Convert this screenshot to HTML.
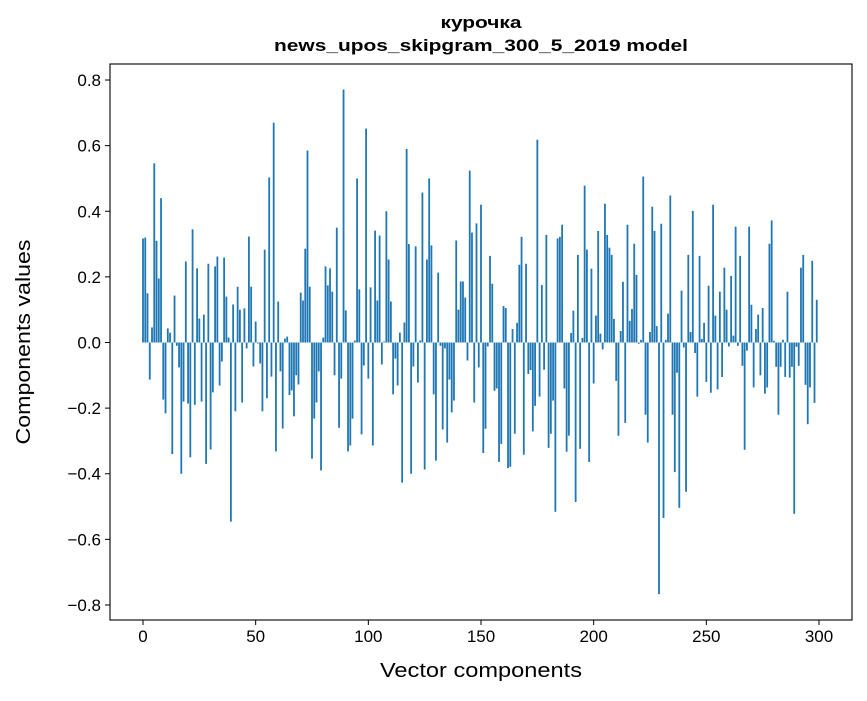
<!DOCTYPE html>
<html><head><meta charset="utf-8"><style>
body{margin:0;background:#fff;}
svg text{font-family:"Liberation Sans","DejaVu Sans",sans-serif;fill:#000;}
</style></head><body>
<svg id="chart" width="867" height="696" xmlns="http://www.w3.org/2000/svg">
<rect width="867" height="696" fill="#fff"/>
<text x="481" y="28" text-anchor="middle" font-size="17" font-weight="bold" textLength="81" lengthAdjust="spacingAndGlyphs">курочка</text>
<text x="481" y="51" text-anchor="middle" font-size="17" font-weight="bold" textLength="414" lengthAdjust="spacingAndGlyphs">news_upos_skipgram_300_5_2019 model</text>
<g id="bars"></g>
<g id="axes"></g>
<text x="481" y="677" text-anchor="middle" font-size="20" textLength="202" lengthAdjust="spacingAndGlyphs">Vector components</text>
<text transform="translate(30,342) rotate(-90)" text-anchor="middle" font-size="20" textLength="205" lengthAdjust="spacingAndGlyphs">Components values</text>
</svg>
<script>
const values = [0.317,0.32,0.15,-0.113,0.046,0.546,0.31,0.195,0.44,-0.174,-0.216,0.043,0.03,-0.34,0.143,-0.01,-0.076,-0.40,-0.18,0.247,-0.186,-0.35,0.345,-0.19,0.226,0.073,-0.18,0.085,-0.37,0.24,-0.326,-0.152,0.232,0.262,-0.131,-0.058,0.259,0.14,0.015,-0.546,0.116,-0.21,0.17,0.10,-0.183,0.104,-0.018,0.323,0.17,-0.073,
0.064,-0.003,-0.064,-0.21,0.283,-0.17,0.503,-0.104,0.67,-0.332,0.125,-0.088,-0.262,0.012,0.018,-0.16,-0.146,-0.225,-0.10,-0.128,0.152,0.128,0.286,0.585,0.17,-0.354,-0.232,-0.183,-0.088,-0.39,0.015,0.232,0.174,0.226,0.155,-0.10,0.35,-0.26,-0.11,0.771,0.098,-0.332,-0.314,-0.232,0.006,0.50,0.162,-0.28,-0.07,0.652,
-0.11,0.168,-0.314,0.341,0.128,0.326,-0.067,0.003,0.40,0.253,0.125,-0.158,-0.049,-0.131,0.03,-0.427,0.061,0.59,0.30,-0.40,-0.073,0.293,-0.122,0.006,0.457,-0.387,0.253,0.50,0.296,-0.158,-0.36,0.213,-0.01,-0.265,-0.018,-0.305,-0.113,-0.213,-0.177,0.311,0.10,0.186,0.186,0.137,-0.055,0.524,0.335,-0.183,0.363,-0.076,
0.42,-0.337,-0.263,-0.012,0.264,0.179,-0.147,-0.14,-0.364,-0.309,0.111,0.105,-0.383,-0.379,0.041,-0.278,0.06,0.237,0.322,-0.342,0.24,-0.096,-0.084,-0.271,-0.193,0.618,-0.165,0.175,-0.083,0.328,-0.321,-0.278,-0.177,-0.516,0.317,0.322,0.359,-0.14,-0.333,-0.284,0.029,0.097,-0.486,0.267,-0.324,0.014,0.478,0.283,-0.364,0.225,
-0.125,0.082,0.34,0.027,-0.021,0.423,0.328,0.289,0.267,0.072,-0.117,-0.284,0.035,0.185,-0.245,0.359,0.066,0.102,0.301,0.206,-0.004,0.008,0.506,-0.22,-0.305,0.032,0.414,0.34,0.05,-0.767,0.362,-0.535,0.008,0.088,0.448,-0.22,-0.395,-0.092,-0.504,0.158,-0.015,-0.455,0.267,0.032,0.401,-0.032,-0.165,0.264,0.011,0.06,
-0.12,0.173,-0.153,0.42,0.082,-0.143,0.155,-0.105,0.228,0.10,-0.012,0.203,0.021,0.353,-0.01,0.264,-0.071,-0.327,-0.025,0.353,0.115,-0.137,0.041,0.085,-0.10,0.105,-0.156,-0.137,0.301,0.372,0.005,-0.074,-0.22,-0.074,0.008,-0.105,0.155,-0.107,-0.074,-0.522,-0.013,-0.071,0.228,0.267,-0.129,-0.249,-0.137,0.249,-0.184,0.13];
const xTicks = [0,50,100,150,200,250,300];
const yTicks = [-0.8,-0.6,-0.4,-0.2,0.0,0.2,0.4,0.6,0.8];
const yTickLabels = ["\u22120.8","\u22120.6","\u22120.4","\u22120.2","0.0","0.2","0.4","0.6","0.8"];

const L=110,R=852,T=64,B=620;
const xs=v=>143+(v)*(819-143)/300;
const ys=v=>342.5-v*328.1;
const NS="http://www.w3.org/2000/svg";
const bars=document.getElementById('bars');
const bw=0.8*(819-143)/300;
values.forEach((v,i)=>{
  const r=document.createElementNS(NS,'rect');
  
  
  const y0=ys(0),y1=ys(v);
  r.setAttribute('x',xs(i)-bw/2);
  r.setAttribute('y',Math.min(y0,y1));
  r.setAttribute('width',bw);
  r.setAttribute('height',Math.max(Math.abs(y1-y0),0.3));
  r.setAttribute('fill','#1f77b4');
  bars.appendChild(r);
});
const ax=document.getElementById('axes');
const frame=document.createElementNS(NS,'rect');


frame.setAttribute('x',L);frame.setAttribute('y',T);frame.setAttribute('width',R-L);frame.setAttribute('height',B-T);
frame.setAttribute('fill','none');frame.setAttribute('stroke','#000');frame.setAttribute('stroke-width','1.1');
ax.appendChild(frame);
xTicks.forEach(t=>{
  const x=xs(t);
  const l=document.createElementNS(NS,'line');
  
  
  l.setAttribute('x1',x);l.setAttribute('x2',x);l.setAttribute('y1',B);l.setAttribute('y2',B+5);l.setAttribute('stroke','#000');
  ax.appendChild(l);
  const tx=document.createElementNS(NS,'text');
  
  
  tx.setAttribute('x',x);tx.setAttribute('y',B+22);tx.setAttribute('text-anchor','middle');tx.setAttribute('font-size','17');
  tx.textContent=t;ax.appendChild(tx);
});
yTicks.forEach((t,i)=>{
  const y=ys(t);
  const l=document.createElementNS(NS,'line');
  
  
  l.setAttribute('x1',L-5);l.setAttribute('x2',L);l.setAttribute('y1',y);l.setAttribute('y2',y);l.setAttribute('stroke','#000');
  ax.appendChild(l);
  const tx=document.createElementNS(NS,'text');
  
  
  tx.setAttribute('x',L-9);tx.setAttribute('y',y+6);tx.setAttribute('text-anchor','end');tx.setAttribute('font-size','17');
  tx.textContent=yTickLabels[i];ax.appendChild(tx);
});
</script>
</body></html>
